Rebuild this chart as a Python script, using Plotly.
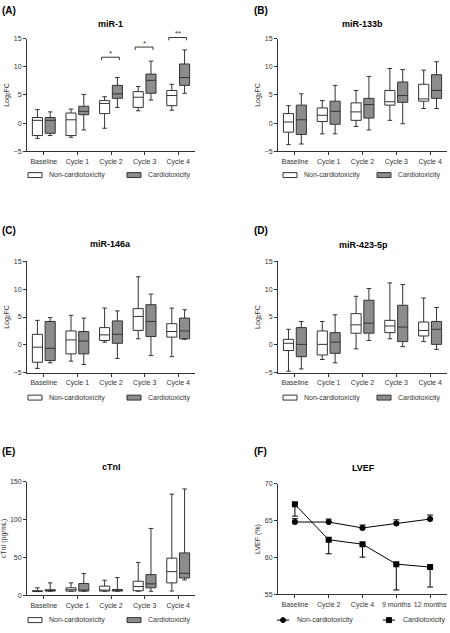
import plotly.graph_objects as go

W, H = 450, 633
FONT = "Liberation Sans, Arial, sans-serif"
AX = "#333333"
GRAY = "#8c8c8c"

cycles = ["Baseline", "Cycle 1", "Cycle 2", "Cycle 3", "Cycle 4"]
lvef_times = ["Baseline", "Cycle 2", "Cycle 4", "9 months", "12 months"]
groups = ["Non-cardiotoxicity", "Cardiotoxicity"]

# each row: [lower whisker, Q1, median, Q3, upper whisker] per cycle
mir1_non = [[-2.7, -2.2, 0.5, 1.0, 2.4], [-2.5, -2.2, 0.6, 1.8, 2.5], [-0.9, 1.7, 3.5, 4.0, 4.7],
            [2.2, 2.8, 4.6, 5.6, 6.5], [2.3, 3.1, 4.9, 5.8, 6.9]]
mir1_car = [[-2.2, -1.8, 0.5, 1.0, 2.0], [-1.2, 1.5, 2.1, 3.0, 5.1], [2.8, 4.4, 5.2, 6.7, 8.1],
            [4.1, 5.3, 7.6, 8.7, 11.0], [5.3, 6.7, 8.1, 10.5, 13.0]]
mir133b_non = [[-3.8, -1.6, 0.2, 1.7, 3.1], [-1.9, 0.3, 1.4, 2.7, 4.0], [-0.6, 0.5, 2.0, 3.6, 5.8],
               [0.5, 3.2, 3.8, 5.8, 9.7], [2.6, 3.9, 4.3, 6.9, 9.4]]
mir133b_car = [[-3.7, -2.0, 0.6, 3.2, 5.2], [-1.9, -0.2, 2.1, 3.9, 6.7], [-1.2, 0.9, 3.3, 4.4, 8.3],
               [-0.1, 3.7, 4.9, 7.3, 9.5], [2.6, 4.4, 5.8, 8.6, 10.9]]
mir146a_non = [[-4.2, -3.1, -0.4, 1.9, 4.4], [-2.9, -1.6, 0.9, 2.5, 5.3], [0.5, 0.8, 1.8, 3.1, 6.6],
               [1.1, 2.6, 5.1, 6.5, 12.2], [-2.1, 1.4, 2.4, 3.8, 6.6]]
mir146a_car = [[-3.2, -2.8, -0.6, 4.2, 4.9], [-3.5, -1.6, 0.7, 2.4, 4.8], [-2.4, 0.3, 1.9, 4.3, 6.1],
               [-1.9, 1.5, 4.2, 7.2, 9.1], [1.0, 1.1, 2.5, 4.8, 6.3]]
mir423_non = [[-4.7, -1.0, 0.3, 1.0, 2.8], [-2.6, -1.8, 0.1, 2.5, 4.2], [-0.7, 2.1, 3.6, 5.6, 8.7],
              [1.1, 2.2, 3.4, 4.4, 11.1], [0.6, 1.6, 2.6, 4.1, 8.4]]
mir423_car = [[-4.3, -2.1, 0.1, 3.1, 4.2], [-3.2, -1.5, 0.5, 2.2, 5.4], [0.8, 2.1, 3.9, 8.0, 10.1],
              [-0.3, 0.6, 3.2, 7.1, 10.8], [-0.8, 0.1, 2.8, 4.2, 6.7]]
ctni_non = [[5.0, 5.2, 5.6, 6.0, 10.0], [5.5, 5.7, 7.4, 10.0, 16.5], [5.5, 5.7, 6.0, 12.2, 20.0],
            [5.5, 6.1, 11.7, 18.7, 43.5], [5.7, 16.5, 31.3, 49.1, 133.5]]
ctni_car = [[5.5, 5.7, 6.5, 7.4, 16.5], [5.5, 5.7, 7.0, 15.7, 28.7], [5.5, 5.7, 7.0, 7.8, 23.5],
            [5.5, 10.0, 15.2, 27.4, 88.3], [20.4, 23.0, 29.1, 56.0, 140.4]]

lvef_non = [64.8, 64.8, 64.0, 64.6, 65.2]
lvef_non_err = [0.45, 0.4, 0.4, 0.5, 0.55]
lvef_car = [67.2, 62.4, 61.8, 59.1, 58.7]
lvef_car_err = [1.6, 1.9, 1.75, 3.5, 2.7]

sig_cycles = [2, 3, 4]
sig_y = [11.7, 13.5, 15.2]
sig_text = ["*", "*", "**"]

GROUP_OFFSET = [-0.19, 0.19]
BOX_WIDTH = 0.3

LEFT_X = (27, 195)
RIGHT_X = (278, 447)

panels = [
    dict(n=1, label="(A)", title="miR-1", data=(mir1_non, mir1_car), xpx=LEFT_X, ypx=(35, 149),
         yr=[-5, 15], yt=[-5, 0, 5, 10, 15], ytitle="Log<sub>2</sub>FC", lab=(0, 7), tit=(110, 20),
         leg=(28, 173, 127)),
    dict(n=2, label="(B)", title="miR-133b", data=(mir133b_non, mir133b_car), xpx=RIGHT_X, ypx=(35, 149),
         yr=[-5, 15], yt=[-5, 0, 5, 10, 15], ytitle="Log<sub>2</sub>FC", lab=(252, 7), tit=(362, 20),
         leg=(283, 173, 377)),
    dict(n=3, label="(C)", title="miR-146a", data=(mir146a_non, mir146a_car), xpx=LEFT_X, ypx=(260, 373),
         yr=[-5, 15], yt=[-5, 0, 5, 10, 15], ytitle="Log<sub>2</sub>FC", lab=(0, 229), tit=(110, 243),
         leg=(28, 398, 127)),
    dict(n=4, label="(D)", title="miR-423-5p", data=(mir423_non, mir423_car), xpx=RIGHT_X, ypx=(260, 373),
         yr=[-5, 15], yt=[-5, 0, 5, 10, 15], ytitle="Log<sub>2</sub>FC", lab=(252, 229), tit=(363, 244),
         leg=(283, 398, 377)),
    dict(n=5, label="(E)", title="cTnI", data=(ctni_non, ctni_car), xpx=LEFT_X, ypx=(483, 598),
         yr=[0, 150], yt=[0, 50, 100, 150], ytitle="cTnI (pg/mL)", lab=(0, 453), tit=(111, 468),
         leg=(28, 623, 127)),
    dict(n=6, label="(F)", title="LVEF", data=None, xpx=RIGHT_X, ypx=(485, 597),
         yr=[55, 70], yt=[55, 60, 65, 70], ytitle="LVEF (%)", lab=(252, 453), tit=(363, 469),
         leg=(277, 623, 383)),
]


def pxx(p):
    return p / W


def pxy(p):
    return 1 - p / H


fig = go.Figure()
annotations = []
shapes = []


def text_ann(txt, x, y, size, anchor="left", color=AX, bold=False):
    annotations.append(dict(text=("<b>%s</b>" % txt) if bold else txt, x=pxx(x), y=pxy(y),
                            xref="paper", yref="paper", xanchor=anchor, yanchor="middle",
                            showarrow=False, font=dict(size=size, color=color, family=FONT)))


for p in panels:
    n = p["n"]
    sx = "" if n == 1 else str(n)
    xa, ya = "x" + sx, "y" + sx
    lx, ly, lx2 = p["leg"]
    if p["data"] is not None:
        for g, (stats, fill) in enumerate(zip(p["data"], ["white", GRAY])):
            fig.add_trace(go.Box(
                x=[i + GROUP_OFFSET[g] for i in range(len(cycles))],
                lowerfence=[s[0] for s in stats], q1=[s[1] for s in stats],
                median=[s[2] for s in stats], q3=[s[3] for s in stats],
                upperfence=[s[4] for s in stats],
                width=BOX_WIDTH,
                name=groups[g], fillcolor=fill, line=dict(color=AX, width=1),
                whiskerwidth=0.45, boxpoints=False, xaxis=xa, yaxis=ya,
                showlegend=False, hoverinfo="skip"))
        cats = cycles
        # legend drawn as boxes + text
        for k, (x0, fill) in enumerate(zip([lx, lx2], ["white", GRAY])):
            shapes.append(dict(type="rect", xref="paper", yref="paper",
                               x0=pxx(x0), x1=pxx(x0 + 14), y0=pxy(ly + 2.5), y1=pxy(ly - 2.5),
                               fillcolor=fill, line=dict(color=AX, width=1)))
            text_ann(groups[k], x0 + 19, ly, 7)
    else:
        fig.add_trace(go.Scatter(
            x=list(range(len(lvef_times))), y=lvef_non, name=groups[0], mode="lines+markers",
            marker=dict(symbol="circle", size=6, color="black"), line=dict(color="black", width=1),
            error_y=dict(type="data", symmetric=False, array=lvef_non_err, arrayminus=[0] * 5,
                         color="black", thickness=1, width=3),
            xaxis=xa, yaxis=ya, showlegend=False, hoverinfo="skip"))
        fig.add_trace(go.Scatter(
            x=list(range(len(lvef_times))), y=lvef_car, name=groups[1], mode="lines+markers",
            marker=dict(symbol="square", size=6, color="black"), line=dict(color="black", width=1),
            error_y=dict(type="data", symmetric=False, array=[0] * 5, arrayminus=lvef_car_err,
                         color="black", thickness=1, width=3),
            xaxis=xa, yaxis=ya, showlegend=False, hoverinfo="skip"))
        cats = lvef_times
        for k, (x0, sym) in enumerate(zip([lx, lx2], ["circle", "rect"])):
            shapes.append(dict(type="line", xref="paper", yref="paper",
                               x0=pxx(x0), x1=pxx(x0 + 12), y0=pxy(ly), y1=pxy(ly),
                               line=dict(color="black", width=1)))
            shapes.append(dict(type=sym, xref="paper", yref="paper",
                               x0=pxx(x0 + 3.5), x1=pxx(x0 + 8.5), y0=pxy(ly + 2.5), y1=pxy(ly - 2.5),
                               fillcolor="black", line=dict(color="black", width=1)))
            text_ann(groups[k], x0 + 18, ly, 7)

    xd = [pxx(p["xpx"][0]), pxx(p["xpx"][1])]
    yd = [pxy(p["ypx"][1]), pxy(p["ypx"][0])]
    fig.update_layout(**{
        "xaxis" + sx: dict(domain=xd, anchor=ya, range=[-0.5, len(cats) - 0.5],
                           tickvals=list(range(len(cats))), ticktext=cats,
                           showline=True, linecolor=AX, linewidth=1, ticks="outside", ticklen=3,
                           tickcolor=AX, tickfont=dict(size=7, color=AX, family=FONT),
                           showgrid=False, zeroline=False, fixedrange=True),
        "yaxis" + sx: dict(domain=yd, anchor=xa, range=p["yr"], tickvals=p["yt"],
                           showline=True, linecolor=AX, linewidth=1, ticks="outside", ticklen=3,
                           tickcolor=AX, tickfont=dict(size=7, color=AX, family=FONT),
                           showgrid=False, zeroline=False, fixedrange=True,
                           title=dict(text=p["ytitle"], font=dict(size=7, color=AX, family=FONT), standoff=3)),
    })
    text_ann(p["label"], p["lab"][0], p["lab"][1], 10, color="black", bold=True)
    text_ann(p["title"], p["tit"][0], p["tit"][1], 9, anchor="center", color="black", bold=True)

# significance brackets for panel A, mapped through panel A's axis scales
pa = panels[0]


def a_x(v):
    x0, x1 = pa["xpx"]
    return x0 + (v + 0.5) / len(cycles) * (x1 - x0)


def a_y(v):
    top, bot = pa["ypx"]
    lo, hi = pa["yr"]
    return bot - (v - lo) / (hi - lo) * (bot - top)


for c, yv, t in zip(sig_cycles, sig_y, sig_text):
    xl, xr = pxx(a_x(c - 0.28)), pxx(a_x(c + 0.25))
    ytop, ybot = pxy(a_y(yv)), pxy(a_y(yv - 0.5))
    shapes.append(dict(type="path", xref="paper", yref="paper",
                       path=f"M{xl},{ybot} L{xl},{ytop} L{xr},{ytop} L{xr},{ybot}",
                       line=dict(color=AX, width=1)))
    text_ann(t, a_x(c - 0.015), a_y(yv) - 4, 8, anchor="center")

fig.update_layout(
    width=W, height=H, margin=dict(l=0, r=0, t=0, b=0),
    paper_bgcolor="white", plot_bgcolor="white",
    boxmode="overlay", showlegend=False,
    font=dict(family=FONT, color=AX),
    annotations=annotations, shapes=shapes,
)

fig.write_html("out.html", config={"displayModeBar": False},
               post_script="document.body.style.margin='0';document.body.style.overflow='hidden';")
